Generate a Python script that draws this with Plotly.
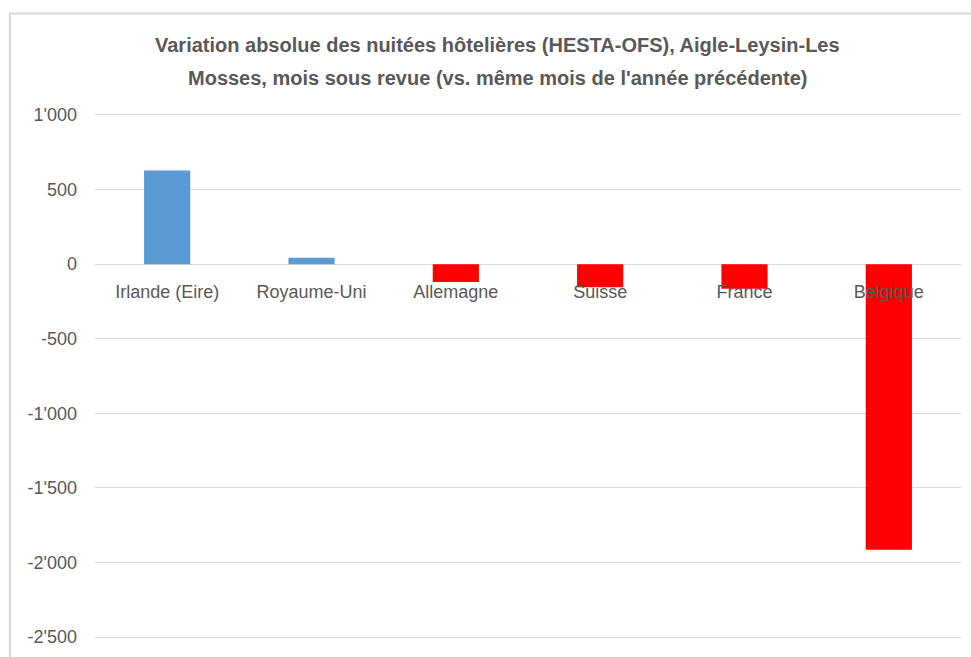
import plotly.graph_objects as go

pays = ["Irlande (Eire)", "Royaume-Uni", "Allemagne", "Suisse", "France", "Belgique"]
variation = [627, 42, -120, -155, -165, -1915]
couleurs = ["#5b9bd5", "#5b9bd5", "#ff0000", "#ff0000", "#ff0000", "#ff0000"]

y_ticks = [1000, 500, 0, -500, -1000, -1500, -2000, -2500]
y_labels = ["1'000", "500", "0", "-500", "-1'000", "-1'500", "-2'000", "-2'500"]

titre_1 = "Variation absolue des nuitées hôtelières (HESTA-OFS), Aigle-Leysin-Les"
titre_2 = "Mosses, mois sous revue (vs. même mois de l'année précédente)"

GREY_TEXT = "#595959"
GRID = "#d9d9d9"
FONT = "Liberation Sans"

# axis range padded a little so the 1'000 and -2'500 grid lines stay visible
Y_MIN, Y_MAX = -2520, 1020
PX_PER_UNIT = 0.15

W, H = 971, 657
L, R = 95, 10
T = 115 - round((Y_MAX - 1000) * PX_PER_UNIT)
B = 17 - round((-2500 - Y_MIN) * PX_PER_UNIT)
plot_w = W - L - R
plot_h = H - T - B


def px_to_paper_x(px):
    return (px - L) / plot_w


def px_to_paper_y(py):
    return 1 + (T - py) / plot_h


fig = go.Figure()
fig.add_trace(
    go.Bar(
        x=pays,
        y=variation,
        marker={"color": couleurs, "line": {"width": 0}},
        showlegend=False,
    )
)

fig.update_layout(
    width=W,
    height=H,
    margin={"l": L, "r": R, "t": T, "b": B},
    paper_bgcolor="white",
    plot_bgcolor="white",
    bargap=0.68,
    font={"family": FONT, "color": GREY_TEXT, "size": 18},
)

fig.update_yaxes(
    range=[Y_MIN, Y_MAX],
    tickvals=y_ticks,
    ticktext=y_labels,
    showgrid=True,
    gridcolor=GRID,
    gridwidth=1,
    zeroline=False,
    showline=False,
    ticks="",
    ticklabelstandoff=17,
    tickfont={"family": FONT, "size": 18, "color": GREY_TEXT},
)

fig.update_xaxes(
    anchor="free",
    position=(0 - Y_MIN) / (Y_MAX - Y_MIN),
    showgrid=False,
    zeroline=False,
    showline=False,
    ticks="",
    ticklabelstandoff=15,
    tickfont={"family": FONT, "size": 18, "color": GREY_TEXT},
    layer="above traces",
)

# chart frame (Excel-style border)
fig.add_shape(
    type="path",
    xref="paper",
    yref="paper",
    path=(
        f"M {px_to_paper_x(10)} {px_to_paper_y(H + 10)} "
        f"L {px_to_paper_x(10)} {px_to_paper_y(13)} "
        f"L {px_to_paper_x(W + 10)} {px_to_paper_y(13)}"
    ),
    line={"color": GRID, "width": 2},
)

for texte, py in [(titre_1, 45), (titre_2, 78)]:
    fig.add_annotation(
        text=f"<b>{texte}</b>",
        xref="paper",
        yref="paper",
        x=px_to_paper_x(497),
        y=px_to_paper_y(py),
        xanchor="center",
        yanchor="middle",
        showarrow=False,
        font={"family": FONT, "size": 20, "color": GREY_TEXT},
    )

fig.write_html(
    "out.html",
    config={"displayModeBar": False},
    post_script="document.body.style.margin='0';",
)
